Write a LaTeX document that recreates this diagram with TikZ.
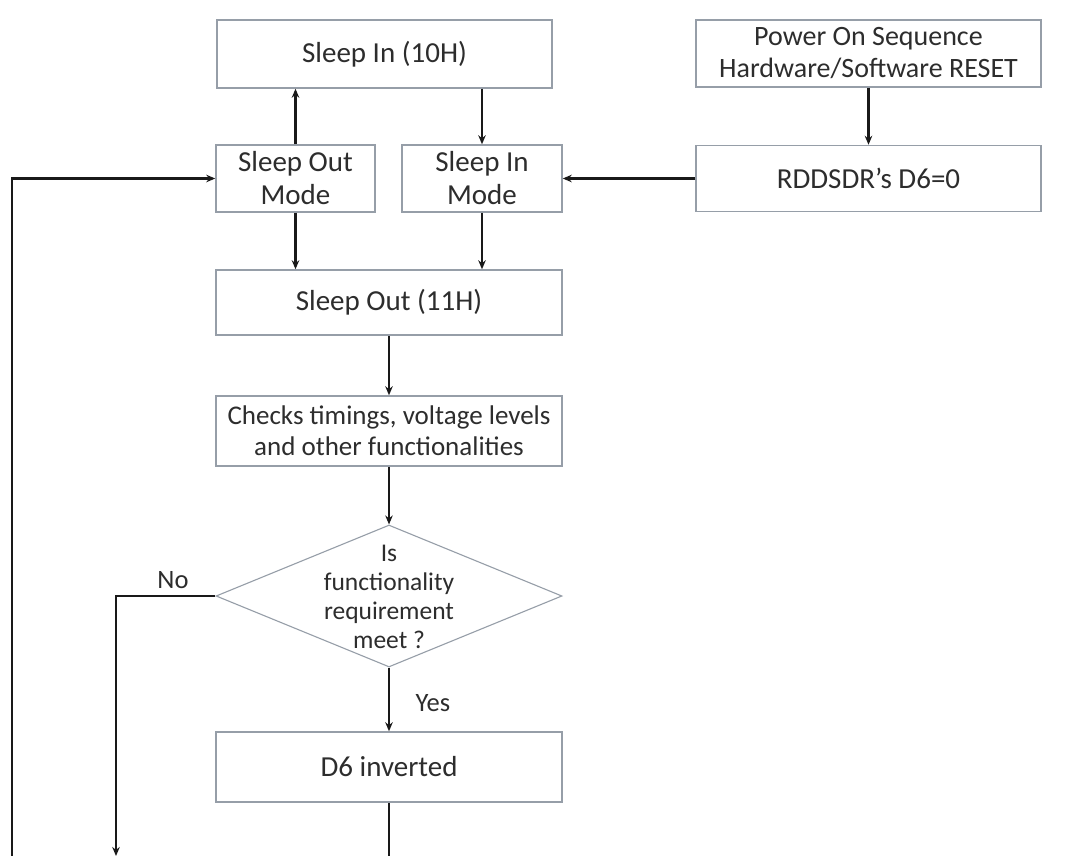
\documentclass[tikz,border=0pt]{standalone}
\usepackage{fontspec}
\setmainfont{Carlito}
\usetikzlibrary{shapes.geometric,arrows.meta}
\definecolor{boxgray}{RGB}{150,158,168}
\definecolor{txt}{RGB}{45,45,45}
\definecolor{ln}{RGB}{25,25,25}
\begin{document}
\begin{tikzpicture}[x=1pt,y=-1pt,
  box/.style={draw=boxgray,line width=1.5pt,fill=white,inner sep=0pt,text=txt,
    font=\fontsize{29}{33}\selectfont,align=center},
  conn/.style={draw=ln,line width=2.4pt},
  arr/.style={conn,-{Stealth[length=9pt,width=7.5pt]}},
  lbl/.style={text=txt,font=\fontsize{26.5}{30}\selectfont,inner sep=0pt}]
\useasboundingbox[fill=white] (0,0) rectangle (1085,856);

\node[box,minimum width=335pt,minimum height=68pt] (si10) at (384.5,54) {Sleep In (10H)};
\node[box,minimum width=345pt,minimum height=67pt,font=\fontsize{28}{32}\selectfont] (pon) at (868.5,53.5) {Power On Sequence\\Hardware/Software RESET};
\node[box,minimum width=159pt,minimum height=67pt] (som) at (295.5,178.5) {Sleep Out\\Mode};
\node[box,minimum width=160pt,minimum height=67pt] (sim) at (482,178.5) {Sleep In\\Mode};
\node[box,minimum width=345pt,minimum height=66pt] (rdd) at (868.5,178.5) {RDDSDR’s D6=0};
\node[box,minimum width=346pt,minimum height=65pt] (so11) at (389,302.5) {Sleep Out (11H)};
\node[box,minimum width=346pt,minimum height=70pt,font=\fontsize{27}{31}\selectfont] (chk) at (389,431) {Checks timings, voltage levels\\and other functionalities};
\node[diamond,draw=boxgray,line width=1.1pt,fill=white,minimum width=346pt,minimum height=142pt,inner sep=0pt] (dia) at (389,596) {};
\node[text=txt,font=\fontsize{25.5}{29}\selectfont,align=center,inner sep=0pt] (diat) at (389,597) {Is\\functionality\\requirement\\meet ?};
\node[box,minimum width=346pt,minimum height=70pt] (d6) at (389,767) {D6 inverted};

\coordinate (nob) at (116,856);
\coordinate (lb) at (12,856);
\coordinate (db) at (389,856);

\draw[arr] (som.north) -- (som.north |- si10.south);
\draw[arr] (si10.south -| sim.north) -- (sim.north);
\draw[arr] (som.south) -- (som.south |- so11.north);
\draw[arr] (sim.south) -- (sim.south |- so11.north);
\draw[arr] (pon.south) -- (rdd.north);
\draw[arr] (rdd.west) -- (sim.east);
\draw[arr] (so11.south) -- (chk.north);
\draw[arr] (chk.south) -- (dia.north);
\draw[arr] (dia.south) -- (d6.north);
\draw[arr] (dia.west) -| (nob);
\draw[arr] (lb) |- (som.west);
\draw[conn] (d6.south) -- (db);

\node[lbl] (yes) at (433,703) {Yes};
\node[lbl] (no) at (173,580) {No};
\end{tikzpicture}
\end{document}
